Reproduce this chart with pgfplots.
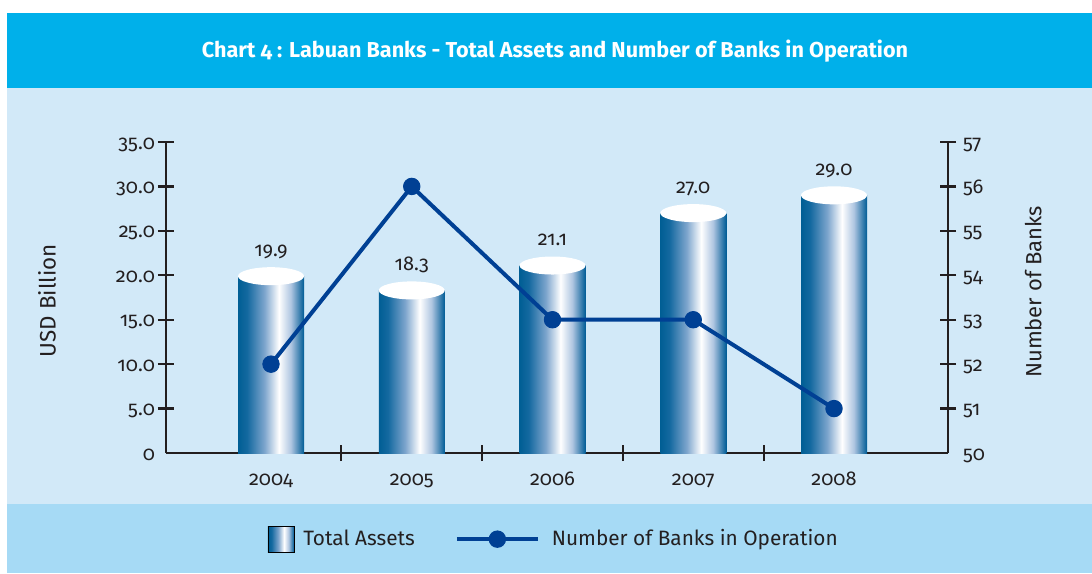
\documentclass[border=0pt]{standalone}
\usepackage{fontspec}
\setmainfont{Fira Sans}[Numbers=OldStyle]
\usepackage{pgfplots}
\usepackage{pgfplotstable}
\pgfplotsset{compat=1.18}
\usetikzlibrary{shapes.geometric}

\definecolor{titlecyan}{RGB}{0,176,234}
\definecolor{plotbg}{RGB}{210,233,248}
\definecolor{legbg}{RGB}{166,218,245}
\definecolor{txt}{RGB}{35,31,32}
\definecolor{lineblue}{RGB}{0,64,148}
\definecolor{cylA}{RGB}{0,94,148}
\definecolor{cylB}{RGB}{20,105,160}
\definecolor{cylC}{RGB}{125,165,205}
\definecolor{cylD}{RGB}{175,198,225}
\definecolor{cylE}{RGB}{0,92,150}
\pgfdeclarehorizontalshading{cyl}{100bp}{color(0bp)=(cylA); color(25bp)=(cylA); color(32bp)=(cylB); color(45bp)=(cylC); color(56bp)=(white); color(65bp)=(cylD); color(75bp)=(cylE); color(100bp)=(cylE)}

\pgfplotsset{
  lineleg/.style={legend image code/.code={\draw[mark repeat=2, mark phase=2, ##1]
    plot coordinates {(0pt,0pt) (20.25pt,0pt) (40.5pt,0pt)}; \path (44.5pt,0pt);}},
  chartframe/.style={
    at={(83pt,-226.5pt)}, anchor=south west,
    scale only axis, width=391pt, height=155.5pt,
    xmin=-0.746, xmax=4.81,
    tick align=center, major tick length=8pt, minor tick length=8pt,
    every tick/.style={txt, line width=1.1pt},
    axis line style={-, txt, line width=1.1pt},
    tick label style={font=\fontsize{10}{12}\selectfont},
    /pgf/number format/assume math mode=true,
  },
}

% year position, total assets (USD bn), banks in operation
\pgfplotstableread{
x year assets banks
0 2004 19.9 52
1 2005 18.3 56
2 2006 21.1 53
3 2007 27.0 53
4 2008 29.0 51
}\chartdata

\begin{document}
\color{txt}
\begin{tikzpicture}[font=\fontsize{9}{11}\selectfont]
% bands, in pixel units of the reference
\begin{scope}[x=0.5pt, y=-0.5pt]
  \fill[white] (0,0) rectangle (1092,573);
  \fill[titlecyan] (7,13) rectangle (1092,88);
  \fill[plotbg] (7,88) rectangle (1092,504);
  \fill[legbg] (7,504) rectangle (1092,573);
  \node[text=white, font=\fontsize{10.8}{12}\selectfont\bfseries] at (555,51)
    {Chart 4 : Labuan Banks - Total Assets and Number of Banks in Operation};
\end{scope}

\begin{axis}[
    chartframe,
    ymin=0, ymax=35,
    axis x line*=bottom, axis y line*=left,
    xtick={0,1,2,3,4}, xticklabels={2004,2005,2006,2007,2008},
    minor xtick={0.5,1.5,2.5,3.5},
    major x tick style={draw=none},
    xticklabel style={anchor=base, yshift=-12pt},
    ytick={5,10,...,35},
    yticklabels={5.0,10.0,15.0,20.0,25.0,30.0,35.0},
    extra y ticks={0}, extra y tick labels={0},
    extra y tick style={major y tick style={draw=none}},
    yticklabel style={anchor=base east, yshift=-3.5pt, xshift=2pt},
    ylabel={USD Billion},
    every axis y label/.style={at={(axis description cs:-0.152,0.49)}, rotate=90,
      anchor=center, font=\fontsize{11.2}{13}\selectfont},
]
\addplot[ybar, bar width=33pt, draw=none, shade, shading=cyl, forget plot] coordinates {(0,19.9)};
\addplot[ybar, bar width=33pt, draw=none, shade, shading=cyl, forget plot] coordinates {(1,18.3)};
\addplot[ybar, bar width=33pt, draw=none, shade, shading=cyl, forget plot] coordinates {(2,21.1)};
\addplot[ybar, bar width=33pt, draw=none, shade, shading=cyl, forget plot] coordinates {(3,27.0)};
\addplot[ybar, bar width=33pt, draw=none, shade, shading=cyl, forget plot] coordinates {(4,29.0)};
% cylinder tops
\addplot[draw=none, mark=none, forget plot, nodes near coords={},
  every node near coord/.style={ellipse, fill=white, minimum width=33pt,
    minimum height=9pt, inner sep=0pt, anchor=center}]
  table[x=x, y=assets] {\chartdata};
% value labels
\addplot[draw=none, mark=none, forget plot, nodes near coords,
  point meta=explicit symbolic,
  every node near coord/.style={anchor=base, yshift=10pt, font=\fontsize{10}{12}\selectfont}]
  table[x=x, y=assets, meta=assets] {\chartdata};
\end{axis}

\begin{axis}[
    chartframe,
    ymin=50, ymax=57,
    axis x line=none, axis y line*=right,
    ytick={51,52,...,57},
    extra y ticks={50}, extra y tick labels={50},
    extra y tick style={major y tick style={draw=none}},
    yticklabel style={anchor=base west, yshift=-3.5pt, xshift=0pt},
    ylabel={Number of Banks},
    every axis y label/.style={at={(axis description cs:1.109,0.518)}, rotate=90,
      anchor=center, font=\fontsize{11}{13}\selectfont},
    legend style={at={(axis description cs:0.497,-0.277)}, anchor=center,
      draw=none, fill=none, legend columns=2, font=\fontsize{10.4}{12}\selectfont,
      /tikz/every even column/.append style={column sep=18pt}},
]
\addlegendimage{legend image code/.code={\shade[shading=cyl] (0pt,-6.5pt) rectangle (13pt,6.5pt); \path (15.5pt,0pt);}}
\addlegendentry{Total Assets}
\addplot[lineblue, line width=2pt, mark=*, mark size=4.1pt,
  mark options={solid, fill=lineblue, draw=lineblue, line width=0.5pt}, lineleg]
  table[x=x, y=banks] {\chartdata};
\addlegendentry{Number of Banks in Operation}
\end{axis}

\pgfresetboundingbox
\path (0,0) rectangle (546pt,-286.5pt);
\end{tikzpicture}
\end{document}
